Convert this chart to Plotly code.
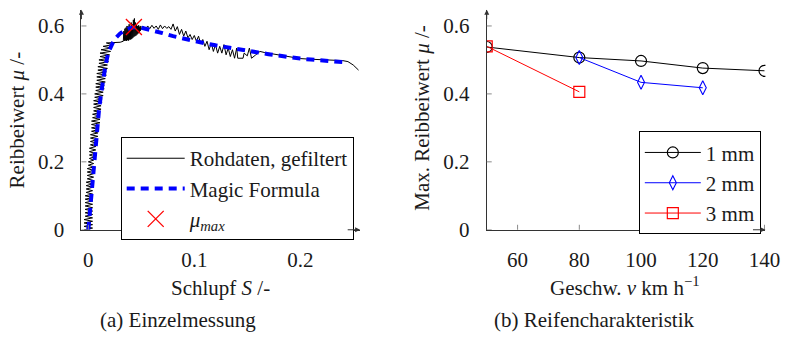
import plotly.graph_objects as go

# ---------------- data: (a) Einzelmessung ----------------
# raw measurement, rising part (strong slip noise)
rise_mu = [0.000, 0.005, 0.010, 0.015, 0.020, 0.025, 0.030, 0.035, 0.040, 0.045,
           0.050, 0.055, 0.060, 0.065, 0.070, 0.075, 0.080, 0.085, 0.090, 0.095,
           0.100, 0.105, 0.110, 0.115, 0.120, 0.125, 0.130, 0.135, 0.140, 0.145,
           0.150, 0.155, 0.160, 0.165, 0.170, 0.175, 0.180, 0.185, 0.190, 0.195,
           0.200, 0.205, 0.210, 0.215, 0.220, 0.225, 0.230, 0.235, 0.240, 0.245,
           0.250, 0.255, 0.260, 0.265, 0.270, 0.275, 0.280, 0.285, 0.290, 0.295,
           0.300, 0.305, 0.310, 0.315, 0.320, 0.325, 0.330, 0.335, 0.340, 0.345,
           0.350, 0.355, 0.360, 0.365, 0.370, 0.375, 0.380, 0.385, 0.390, 0.395,
           0.400, 0.405, 0.410, 0.415, 0.420, 0.425, 0.430, 0.435, 0.440, 0.445,
           0.450, 0.455, 0.460, 0.465, 0.470, 0.475, 0.480, 0.485, 0.490, 0.495,
           0.500, 0.505, 0.510, 0.515, 0.520, 0.525, 0.530, 0.535, 0.540, 0.545,
           0.550]
rise_S = [-0.004, 0.004, -0.004, 0.004, -0.004, 0.004, -0.004, 0.004, -0.003, 0.004,
          -0.003, 0.004, -0.003, 0.004, -0.003, 0.004, -0.003, 0.004, -0.003, 0.004,
          -0.003, 0.004, -0.002, 0.004, -0.002, 0.004, -0.002, 0.004, -0.002, 0.005,
          -0.001, 0.005, -0.001, 0.005, -0.001, 0.005, -0.001, 0.005, 0.000, 0.005,
          0.000, 0.005, 0.001, 0.006, 0.001, 0.006, 0.001, 0.007, 0.001, 0.007,
          0.002, 0.008, 0.002, 0.008, 0.002, 0.009, 0.002, 0.009, 0.003, 0.010,
          0.003, 0.010, 0.003, 0.011, 0.003, 0.011, 0.004, 0.011, 0.004, 0.011,
          0.005, 0.012, 0.005, 0.012, 0.005, 0.013, 0.005, 0.013, 0.006, 0.014,
          0.006, 0.014, 0.007, 0.015, 0.007, 0.015, 0.007, 0.016, 0.008, 0.016,
          0.008, 0.017, 0.008, 0.017, 0.009, 0.018, 0.009, 0.018, 0.010, 0.019,
          0.010, 0.019, 0.011, 0.020, 0.011, 0.021, 0.012, 0.022, 0.014, 0.023,
          0.017]
# plateau and peak region
peak_S = [0.025, 0.030, 0.033, 0.0335, 0.034, 0.0345, 0.035, 0.0355, 0.036, 0.0365,
          0.037, 0.0375, 0.038, 0.0385, 0.039, 0.0395, 0.040, 0.0405, 0.041, 0.0415,
          0.042, 0.0425, 0.043, 0.0435, 0.044, 0.0445, 0.045, 0.0455, 0.046, 0.0465,
          0.047, 0.0475, 0.048, 0.0485, 0.049, 0.0495, 0.050]
peak_mu = [0.550, 0.552, 0.555, 0.585, 0.556, 0.592, 0.557, 0.595, 0.556, 0.600,
           0.558, 0.598, 0.557, 0.605, 0.560, 0.600, 0.560, 0.610, 0.562, 0.605,
           0.565, 0.618, 0.568, 0.622, 0.570, 0.610, 0.572, 0.605, 0.575, 0.600,
           0.578, 0.602, 0.580, 0.598, 0.585, 0.600, 0.590]
# falling tail
tail_S = [0.052, 0.054, 0.056, 0.058, 0.060, 0.062, 0.064, 0.066, 0.068, 0.070,
          0.072, 0.074, 0.076, 0.078, 0.080, 0.082, 0.084, 0.086, 0.088, 0.090,
          0.092, 0.094, 0.096, 0.098, 0.100, 0.102, 0.104, 0.106, 0.108, 0.110,
          0.112, 0.114, 0.116, 0.118, 0.120, 0.122, 0.124, 0.126, 0.128, 0.130,
          0.132, 0.134, 0.136, 0.138, 0.140, 0.141, 0.146, 0.147, 0.150, 0.152,
          0.154, 0.158, 0.162, 0.166, 0.170, 0.180, 0.190, 0.200, 0.210, 0.220,
          0.230, 0.240, 0.245, 0.250, 0.255]
tail_mu = [0.598, 0.590, 0.600, 0.592, 0.602, 0.593, 0.600, 0.590, 0.603, 0.592,
           0.600, 0.593, 0.598, 0.590, 0.606, 0.585, 0.598, 0.575, 0.590, 0.570,
           0.585, 0.565, 0.575, 0.560, 0.572, 0.555, 0.570, 0.548, 0.560, 0.540,
           0.555, 0.530, 0.550, 0.525, 0.545, 0.520, 0.540, 0.520, 0.545, 0.515,
           0.535, 0.510, 0.530, 0.505, 0.535, 0.505, 0.505, 0.520, 0.512, 0.535,
           0.505, 0.515, 0.525, 0.522, 0.520, 0.513, 0.508, 0.504, 0.502, 0.501,
           0.500, 0.498, 0.495, 0.485, 0.470]

raw_S = rise_S + peak_S + tail_S
raw_mu = rise_mu + peak_mu + tail_mu

mf_S = [0.000, 0.002, 0.004, 0.006, 0.008, 0.010, 0.012, 0.014, 0.016, 0.018,
        0.020, 0.023, 0.026, 0.030, 0.035, 0.040, 0.045, 0.050, 0.060, 0.070,
        0.080, 0.090, 0.100, 0.110, 0.120, 0.130, 0.140, 0.150, 0.160, 0.170,
        0.180, 0.190, 0.200, 0.210, 0.220, 0.230, 0.242]
mf_mu = [0.000, 0.070, 0.160, 0.240, 0.300, 0.350, 0.400, 0.445, 0.480, 0.510,
         0.530, 0.550, 0.565, 0.578, 0.588, 0.594, 0.596, 0.595, 0.588, 0.579,
         0.570, 0.562, 0.555, 0.549, 0.543, 0.537, 0.532, 0.527, 0.522, 0.517,
         0.512, 0.508, 0.504, 0.501, 0.499, 0.497, 0.493]

mumax_S = [0.043]
mumax_mu = [0.597]

# ---------------- data: (b) Reifencharakteristik ----------------
v_1mm = [50, 80, 100, 120, 140]
mu_1mm = [0.538, 0.507, 0.497, 0.476, 0.468]
v_2mm = [80, 100, 120]
mu_2mm = [0.507, 0.434, 0.418]
v_3mm = [50, 80]
mu_3mm = [0.540, 0.406]

left_xticks = [0, 0.1, 0.2]
left_xticklabels = ["0", "0.1", "0.2"]
yticks = [0, 0.2, 0.4, 0.6]
yticklabels = ["0", "0.2", "0.4", "0.6"]
right_xticks = [60, 80, 100, 120, 140]
right_xticklabels = ["60", "80", "100", "120", "140"]

# ---------------- figure ----------------
FONT = "Liberation Serif"
FS = 21
TXT = "#1a1a1a"
AX = "#333333"
TICK = "#8a8a8a"

L_XR = [-0.0065, 0.2565]
YR = [0, 0.648]
R_XR = [50, 140.3]

fig = go.Figure()

fig.add_trace(go.Scatter(x=raw_S, y=raw_mu, mode="lines", name="Rohdaten, gefiltert",
                         line=dict(color="black", width=1), xaxis="x", yaxis="y",
                         legend="legend"))
fig.add_trace(go.Scatter(x=mf_S, y=mf_mu, mode="lines", name="Magic Formula",
                         line=dict(color="#0000ff", width=4, dash="8px,6px"),
                         xaxis="x", yaxis="y", legend="legend"))
fig.add_trace(go.Scatter(x=mumax_S, y=mumax_mu, mode="markers",
                         name="<i>μ</i><sub><i>max</i></sub>",
                         marker=dict(symbol="x-thin", size=16, color="red",
                                     line=dict(color="red", width=1.3)),
                         xaxis="x", yaxis="y", legend="legend"))

fig.add_trace(go.Scatter(x=v_1mm, y=mu_1mm, mode="lines+markers", name="1 mm",
                         line=dict(color="black", width=1),
                         marker=dict(symbol="circle-open", size=11, color="black",
                                     line=dict(width=1.2)),
                         xaxis="x2", yaxis="y2", legend="legend2"))
fig.add_trace(go.Scatter(x=v_2mm, y=mu_2mm, mode="lines+markers", name="2 mm",
                         line=dict(color="#0000ff", width=1),
                         marker=dict(symbol="diamond-tall-open", size=10, color="#0000ff",
                                     line=dict(width=1.1)),
                         xaxis="x2", yaxis="y2", legend="legend2"))
fig.add_trace(go.Scatter(x=v_3mm, y=mu_3mm, mode="lines+markers", name="3 mm",
                         line=dict(color="red", width=1),
                         marker=dict(symbol="square-open", size=11, color="red",
                                     line=dict(width=1.2)),
                         xaxis="x2", yaxis="y2", legend="legend2"))

W, H = 802, 347
ydom = [(H - 238) / H, (H - 10) / H]

axis_common = dict(showline=True, linecolor=AX, linewidth=1, showgrid=False,
                   zeroline=False, ticks="", tickfont=dict(family=FONT, size=FS, color=TXT),
                   fixedrange=True)

fig.update_layout(
    width=W, height=H,
    margin=dict(l=0, r=0, t=0, b=0),
    paper_bgcolor="white", plot_bgcolor="white",
    font=dict(family=FONT, size=FS, color=TXT),
    xaxis=dict(domain=[83 / W, 367 / W], range=L_XR, anchor="y",
               tickvals=left_xticks, ticktext=left_xticklabels,
               ticklabelstandoff=11, **axis_common),
    yaxis=dict(domain=ydom, range=YR, anchor="x",
               tickvals=yticks, ticktext=yticklabels,
               ticklabelstandoff=12, **axis_common),
    xaxis2=dict(domain=[496 / W, 780 / W], range=R_XR, anchor="y2",
                tickvals=right_xticks, ticktext=right_xticklabels,
                ticklabelstandoff=11, **axis_common),
    yaxis2=dict(domain=ydom, range=YR, anchor="x2",
                tickvals=yticks, ticktext=yticklabels,
                ticklabelstandoff=12, **axis_common),
    legend=dict(x=123 / W, y=(H - 142) / H, xanchor="left", yanchor="top",
                bgcolor="white", bordercolor="black", borderwidth=1,
                font=dict(family=FONT, size=FS, color=TXT),
                tracegroupgap=0, itemwidth=58),
    legend2=dict(x=651 / W, y=(H - 136) / H, xanchor="left", yanchor="top",
                 bgcolor="white", bordercolor="black", borderwidth=1,
                 font=dict(family=FONT, size=FS, color=TXT),
                 tracegroupgap=0, itemwidth=56),
    showlegend=True,
)

# tick marks crossing the axes
shapes = []
for t in left_xticks:
    shapes.append(dict(type="line", xref="x", yref="y", x0=t, x1=t,
                       ysizemode="pixel", yanchor=YR[0], y0=-5, y1=5,
                       line=dict(color=TICK, width=1)))
for t in yticks:
    shapes.append(dict(type="line", xref="x", yref="y", y0=t, y1=t,
                       xsizemode="pixel", xanchor=L_XR[0], x0=-5, x1=5,
                       line=dict(color=TICK, width=1)))
for t in right_xticks:
    shapes.append(dict(type="line", xref="x2", yref="y2", x0=t, x1=t,
                       ysizemode="pixel", yanchor=YR[0], y0=-5, y1=5,
                       line=dict(color=TICK, width=1)))
for t in yticks:
    shapes.append(dict(type="line", xref="x2", yref="y2", y0=t, y1=t,
                       xsizemode="pixel", xanchor=R_XR[0], x0=-5, x1=5,
                       line=dict(color=TICK, width=1)))
fig.update_layout(shapes=shapes)

annotations = []
# axis arrows
for xr, yr, xa, ya in [(L_XR, YR, "x", "y"), (R_XR, YR, "x2", "y2")]:
    annotations.append(dict(x=xr[1], y=yr[0], ax=xr[1] - (xr[1] - xr[0]) * 0.05, ay=yr[0],
                            xref=xa, yref=ya, axref=xa, ayref=ya, showarrow=True,
                            arrowhead=2, arrowsize=1, arrowwidth=1, arrowcolor=AX, text=""))
    annotations.append(dict(x=xr[0], y=yr[1], ax=xr[0], ay=yr[1] - (yr[1] - yr[0]) * 0.05,
                            xref=xa, yref=ya, axref=xa, ayref=ya, showarrow=True,
                            arrowhead=2, arrowsize=1, arrowwidth=1, arrowcolor=AX, text=""))

def txt(text, xpx, ypx, angle=0, yanchor="middle"):
    return dict(text=text, x=xpx / W, y=(H - ypx) / H, xref="paper", yref="paper",
                showarrow=False, textangle=angle, xanchor="center", yanchor=yanchor,
                font=dict(family=FONT, size=FS, color=TXT))

annotations += [
    txt("Schlupf <i>S</i> /-", 225, 298),
    txt("Geschw. <i>v</i> km h<sup>−1</sup>", 637, 297),
    txt("Reibbeiwert <i>μ</i> /-", 17, 124, -90),
    txt("Max. Reibbeiwert <i>μ</i> /-", 430, 122, -90),
    txt("(a) Einzelmessung", 181, 317, yanchor="top"),
    txt("(b) Reifencharakteristik", 605, 317, yanchor="top"),
]
fig.update_layout(annotations=annotations)

fig.write_html("out.html")
